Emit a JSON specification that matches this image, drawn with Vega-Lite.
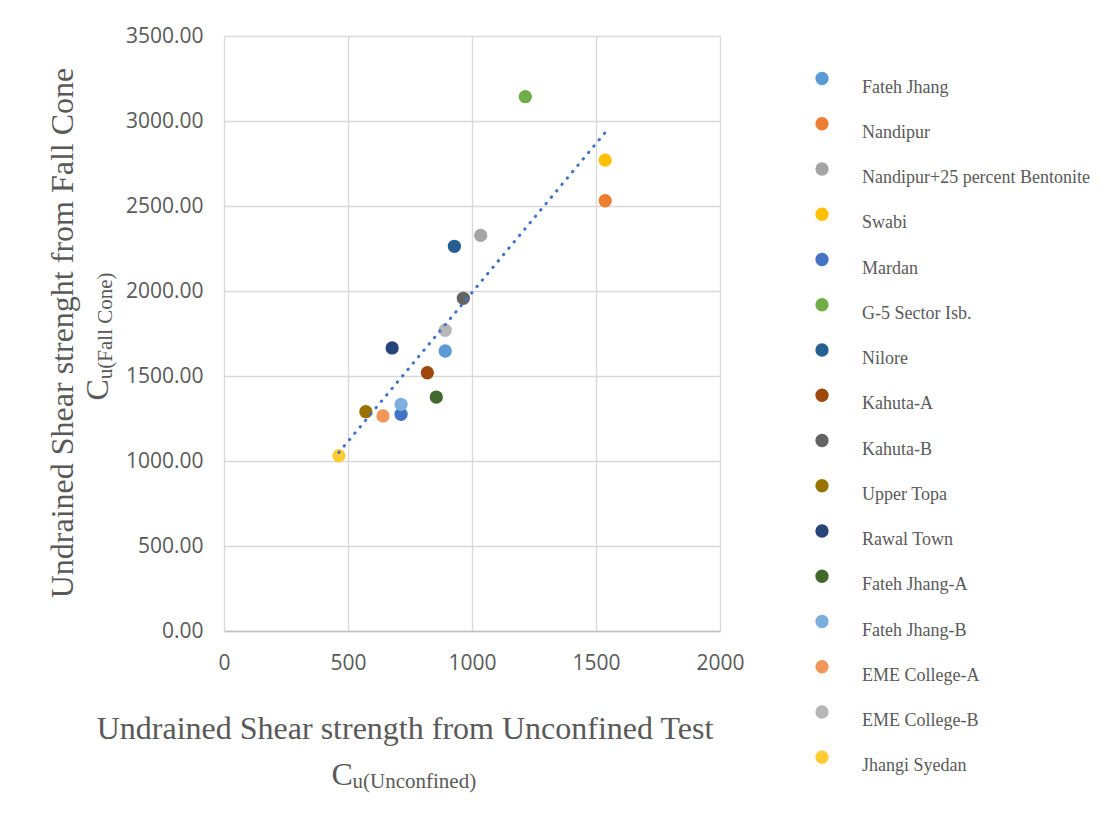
{
  "$schema": "https://vega.github.io/schema/vega-lite/v6.json",
  "width": 496,
  "height": 595,
  "autosize": {"type": "none"},
  "padding": {"left": 224, "top": 36, "right": 390, "bottom": 192},
  "background": "white",
  "config": {
    "view": {"stroke": null},
    "axis": {
      "ticks": false,
      "labelFlush": false,
      "labelFont": "Open Sans",
      "labelFontSize": 21,
      "labelColor": "#595959",
      "titleFont": "Liberation Serif",
      "titleFontWeight": "normal",
      "titleColor": "#595959",
      "titleBaseline": "alphabetic",
      "gridColor": "#d9d9d9",
      "gridWidth": 1.3
    }
  },
  "data": {
    "values": [
      {"site": "Fateh Jhang", "cu_unconfined": 892, "cu_fallcone": 1647},
      {"site": "Nandipur", "cu_unconfined": 1537, "cu_fallcone": 2531},
      {"site": "Nandipur+25 percent Bentonite", "cu_unconfined": 1035, "cu_fallcone": 2327},
      {"site": "Swabi", "cu_unconfined": 1537, "cu_fallcone": 2770},
      {"site": "Mardan", "cu_unconfined": 714, "cu_fallcone": 1275},
      {"site": "G-5 Sector Isb.", "cu_unconfined": 1215, "cu_fallcone": 3143},
      {"site": "Nilore", "cu_unconfined": 929, "cu_fallcone": 2263},
      {"site": "Kahuta-A", "cu_unconfined": 820, "cu_fallcone": 1519},
      {"site": "Kahuta-B", "cu_unconfined": 965, "cu_fallcone": 1957},
      {"site": "Upper Topa", "cu_unconfined": 572, "cu_fallcone": 1290},
      {"site": "Rawal Town", "cu_unconfined": 678, "cu_fallcone": 1665},
      {"site": "Fateh Jhang-A", "cu_unconfined": 856, "cu_fallcone": 1376},
      {"site": "Fateh Jhang-B", "cu_unconfined": 714, "cu_fallcone": 1333},
      {"site": "EME College-A", "cu_unconfined": 641, "cu_fallcone": 1265},
      {"site": "EME College-B", "cu_unconfined": 892, "cu_fallcone": 1769},
      {"site": "Jhangi Syedan", "cu_unconfined": 463, "cu_fallcone": 1031}
    ]
  },
  "layer": [
    {
      "mark": {"type": "circle", "size": 177, "opacity": 1},
      "encoding": {
        "x": {
          "field": "cu_unconfined",
          "type": "quantitative",
          "scale": {"domain": [0, 2000], "nice": false, "zero": false},
          "axis": {
            "orient": "bottom",
            "values": [0, 500, 1000, 1500, 2000],
            "format": "d",
            "grid": true,
            "domain": true,
            "domainColor": "#bfbfbf",
            "domainWidth": 1.3,
            "labelPadding": 21,
            "title": "Undrained Shear strength from Unconfined Test",
            "titleFontSize": 32,
            "titleAlign": "center",
            "titleX": 180.5,
            "titleY": 107
          }
        },
        "y": {
          "field": "cu_fallcone",
          "type": "quantitative",
          "scale": {"domain": [0, 3500], "nice": false, "zero": false},
          "axis": {
            "orient": "left",
            "values": [0, 500, 1000, 1500, 2000, 2500, 3000, 3500],
            "format": ".2f",
            "grid": true,
            "domain": false,
            "labelPadding": 21,
            "title": "Undrained Shear strenght from Fall Cone",
            "titleFontSize": 32,
            "titleAngle": 270,
            "titleAlign": "center",
            "titleX": -152,
            "titleY": 296.5
          }
        },
        "color": {
          "field": "site",
          "type": "nominal",
          "scale": {
            "domain": ["Fateh Jhang", "Nandipur", "Nandipur+25 percent Bentonite", "Swabi", "Mardan", "G-5 Sector Isb.", "Nilore", "Kahuta-A", "Kahuta-B", "Upper Topa", "Rawal Town", "Fateh Jhang-A", "Fateh Jhang-B", "EME College-A", "EME College-B", "Jhangi Syedan"],
            "range": ["#5B9BD5", "#ED7D31", "#A5A5A5", "#FFC000", "#4472C4", "#70AD47", "#255E91", "#9E480E", "#636363", "#997300", "#264478", "#43682B", "#7CAFDD", "#F1975A", "#B7B7B7", "#FFCD33"]
          },
          "legend": {
            "orient": "none",
            "legendX": 589,
            "legendY": 33.5,
            "title": null,
            "padding": 0,
            "symbolType": "circle",
            "symbolSize": 177,
            "symbolStrokeWidth": 0,
            "symbolOpacity": 1,
            "labelFont": "Liberation Serif",
            "labelFontSize": 18,
            "labelColor": "#595959",
            "labelBaseline": "top",
            "labelOffset": 31,
            "labelLimit": 400,
            "rowPadding": 18.25
          }
        }
      }
    },
    {
      "transform": [{"regression": "cu_fallcone", "on": "cu_unconfined"}],
      "mark": {"type": "line", "color": "#4472C4", "strokeWidth": 3, "strokeCap": "round", "strokeDash": [0.5, 7.8]},
      "encoding": {
        "x": {
          "field": "cu_unconfined",
          "type": "quantitative",
          "scale": {"domain": [0, 2000], "nice": false, "zero": false},
          "axis": {
            "orient": "bottom",
            "labels": false,
            "grid": false,
            "domain": false,
            "title": "C",
            "titleFontSize": 32,
            "titleAlign": "left",
            "titleX": 107,
            "titleY": 153
          }
        },
        "y": {
          "field": "cu_fallcone",
          "type": "quantitative",
          "scale": {"domain": [0, 3500], "nice": false, "zero": false},
          "axis": {
            "orient": "left",
            "labels": false,
            "grid": false,
            "domain": false,
            "title": "C",
            "titleFontSize": 32,
            "titleAngle": 270,
            "titleAlign": "left",
            "titleX": -117,
            "titleY": 364
          }
        }
      }
    },
    {
      "mark": {"type": "circle", "opacity": 0},
      "encoding": {
        "x": {
          "field": "cu_unconfined",
          "type": "quantitative",
          "scale": {"domain": [0, 2000], "nice": false, "zero": false},
          "axis": {
            "orient": "bottom",
            "labels": false,
            "grid": false,
            "domain": false,
            "title": "u(Unconfined)",
            "titleFontSize": 21,
            "titleAlign": "left",
            "titleX": 128,
            "titleY": 156
          }
        },
        "y": {
          "field": "cu_fallcone",
          "type": "quantitative",
          "scale": {"domain": [0, 3500], "nice": false, "zero": false},
          "axis": {
            "orient": "left",
            "labels": false,
            "grid": false,
            "domain": false,
            "title": "u(Fall Cone)",
            "titleFontSize": 21,
            "titleAngle": 270,
            "titleAlign": "left",
            "titleX": -113,
            "titleY": 342.7
          }
        }
      }
    }
  ],
  "resolve": {"axis": {"x": "independent", "y": "independent"}}
}
